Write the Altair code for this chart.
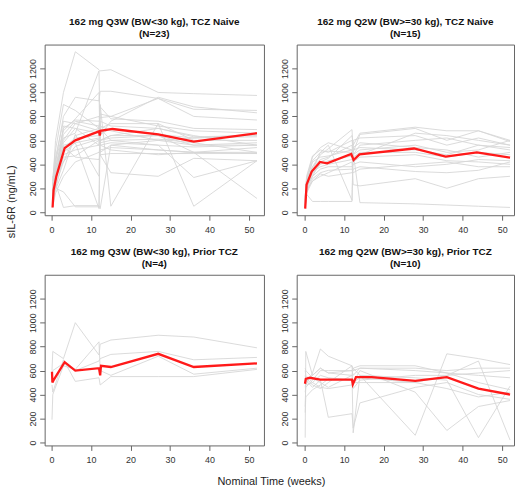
import altair as alt
import pandas as pd

# ---------------- data ----------------
TITLES = [
    ["162 mg Q3W (BW<30 kg),  TCZ Naive", "(N=23)"],
    ["162 mg Q2W (BW>=30 kg),  TCZ Naive", "(N=15)"],
    ["162 mg Q3W (BW<30 kg),  Prior TCZ", "(N=4)"],
    ["162 mg Q2W (BW>=30 kg),  Prior TCZ", "(N=10)"],
]

# nominal times (weeks) of individual profiles
T_Q3W = [0.25, 1, 3, 6, 12, 12.3, 15, 27, 36, 52]
T_Q2W = [0.15, 0.5, 2, 4, 6, 12, 12.3, 14, 28, 36, 44, 52]
T_Q3W_PRIOR = [0.1, 0.3, 3, 6, 12, 12.3, 15, 27, 36, 52]
T_Q2W_PRIOR = [0.15, 0.3, 2, 4, 6, 12, 12.3, 14, 28, 36, 44, 52]

# individual sIL-6R profiles (ng/mL)
IND_1 = [
    [220, 600, 1000, 1340, 1190, 1180, 1190, 1000, 990, 975],
    [180, 420, 800, 960, 930, 1010, 1010, 950, 860, 850],
    [120, 350, 700, 770, 760, 790, 800, 950, 800, 770],
    [100, 300, 650, 760, 720, 640, 760, 960, 880, 830],
    [60, 250, 720, 700, 560, 700, 740, 740, 50, 430],
    [250, 200, 170, 45, 45, 700, 600, 560, 545, 560],
    [300, 240, 40, 55, 55, 30, 560, 520, 500, 490],
    [150, 300, 550, 460, 440, 480, 490, 490, 490, 490],
    [80, 200, 460, 470, 600, 480, 330, 300, 450, 430],
    [200, 380, 600, 740, 680, 900, 50, 740, 600, 600],
    [90, 330, 560, 580, 620, 560, 580, 560, 290, 430],
    [140, 400, 620, 660, 1180, 650, 700, 650, 620, 650],
    [50, 280, 500, 580, 30, 760, 720, 700, 640, 560],
    [160, 360, 540, 620, 640, 600, 640, 700, 630, 640],
    [110, 260, 480, 520, 560, 600, 640, 640, 560, 580],
    [70, 220, 420, 640, 700, 820, 800, 720, 680, 660],
    [230, 460, 760, 740, 800, 720, 680, 600, 560, 560],
    [130, 320, 580, 700, 660, 560, 520, 480, 500, 540],
    [40, 160, 300, 420, 500, 520, 540, 520, 500, 500],
    [190, 430, 680, 780, 1000, 500, 560, 600, 620, 630],
    [260, 520, 900, 850, 700, 600, 620, 640, 500, 115],
    [100, 190, 350, 650, 300, 880, 780, 760, 700, 690],
    [170, 300, 420, 550, 610, 580, 600, 610, 580, 500],
]
IND_2 = [
    [100, 250, 380, 480, 530, 690, 500, 650, 700, 600, 680, 590],
    [60, 200, 300, 420, 450, 640, 560, 660, 710, 680, 680, 600],
    [40, 150, 90, 90, 90, 90, 500, 80, 70, 60, 50, 40],
    [80, 180, 350, 500, 560, 100, 600, 620, 640, 560, 620, 560],
    [120, 280, 460, 540, 580, 520, 480, 560, 600, 620, 560, 540],
    [50, 190, 260, 300, 330, 420, 230, 220, 280, 200, 280, 300],
    [90, 230, 340, 380, 400, 440, 420, 460, 480, 430, 420, 400],
    [70, 210, 300, 360, 380, 380, 400, 420, 380, 400, 440, 430],
    [110, 260, 420, 460, 470, 520, 480, 520, 560, 500, 520, 600],
    [30, 170, 280, 330, 350, 360, 330, 360, 400, 420, 380, 380],
    [130, 300, 470, 520, 500, 600, 520, 540, 520, 480, 560, 520],
    [60, 220, 320, 400, 430, 470, 460, 500, 500, 460, 500, 480],
    [90, 240, 380, 440, 460, 560, 440, 480, 660, 640, 600, 560],
    [40, 160, 260, 320, 300, 330, 360, 380, 340, 330, 350, 420],
    [100, 270, 430, 500, 510, 500, 540, 580, 540, 520, 460, 500],
]
IND_3 = [
    [600, 760, 700, 1000, 730, 820, 855, 895, 880, 790],
    [480, 420, 690, 510, 540, 480, 550, 550, 550, 610],
    [560, 600, 660, 600, 680, 700, 735, 760, 690, 710],
    [190, 400, 640, 610, 840, 600, 560, 720, 570, 620],
]
IND_4 = [
    [40, 760, 560, 620, 580, 600, 560, 620, 620, 600, 620, 620],
    [300, 480, 580, 780, 720, 640, 600, 620, 600, 580, 560, 540],
    [560, 520, 460, 520, 210, 240, 120, 330, 460, 500, 400, 360],
    [620, 600, 540, 500, 460, 560, 80, 560, 60, 740, 700, 650],
    [500, 480, 500, 560, 540, 520, 500, 600, 420, 100, 300, 350],
    [420, 460, 520, 600, 600, 600, 620, 560, 540, 520, 40, 470],
    [510, 540, 480, 450, 500, 640, 450, 520, 560, 560, 680, 20],
    [600, 560, 500, 460, 450, 480, 500, 500, 500, 450, 380, 420],
    [250, 380, 440, 480, 530, 520, 500, 540, 500, 560, 580, 600],
    [460, 500, 560, 620, 580, 560, 620, 640, 640, 580, 500, 440],
]

# mean profiles (red)
MEAN_T_1 = [0.25, 0.5, 1.2, 3.3, 6, 12, 12.2, 12.4, 15.4, 27, 36, 52]
MEAN_V_1 = [40, 185, 300, 535, 600, 675, 640, 680, 695, 650, 590, 660]
MEAN_T_2 = [0.15, 0.5, 1.8, 3.9, 5.7, 11.8, 12.4, 13.9, 27.7, 35.7, 43.6, 52]
MEAN_V_2 = [30, 230, 340, 420, 408, 486, 436, 483, 532, 464, 499, 455]
MEAN_T_3 = [0.1, 0.2, 0.5, 3.3, 6, 12, 12.3, 12.5, 15, 27, 36, 52]
MEAN_V_3 = [590, 500, 520, 670, 600, 620, 560, 640, 630, 740, 630, 660]
MEAN_T_4 = [0.1, 0.3, 1.3, 4, 12, 12.2, 13, 17, 28, 36, 44, 52]
MEAN_V_4 = [490, 530, 540, 525, 525, 485, 545, 545, 515, 545, 450, 400]

Y_TICKS = [0, 200, 400, 600, 800, 1000, 1200]
X_TICKS = [0, 10, 20, 30, 40, 50]

PANELS = [
    (T_Q3W, IND_1, MEAN_T_1, MEAN_V_1),
    (T_Q2W, IND_2, MEAN_T_2, MEAN_V_2),
    (T_Q3W_PRIOR, IND_3, MEAN_T_3, MEAN_V_3),
    (T_Q2W_PRIOR, IND_4, MEAN_T_4, MEAN_V_4),
]

FONT = "Liberation Sans"


def make_panel(idx, xdom, width, ytitle=False, xtitle=False):
    times, ind, mt, mv = PANELS[idx]
    rows = []
    for s, vals in enumerate(ind):
        for t, v in zip(times, vals):
            rows.append({"subject": s, "week": t, "value": v})
    gdf = pd.DataFrame(rows)
    rdf = pd.DataFrame({"week": mt, "value": mv})

    if xtitle:
        xaxis = alt.Axis(values=X_TICKS, title="Nominal Time (weeks)", titleX=228, titleY=30,
                         titleAlign="center", titleBaseline="top", titleFontSize=11,
                         titleFontWeight="normal", titleColor="#222", titleFont=FONT,
                         labelPadding=5)
    else:
        xaxis = alt.Axis(values=X_TICKS, title="", labelPadding=5)
    if ytitle:
        yaxis = alt.Axis(values=Y_TICKS, title="sIL-6R (ng/mL)", titleX=-28, titleY=158,
                         titleAngle=270, titleAlign="center", titleBaseline="bottom",
                         titleFontSize=11, titleFontWeight="normal", titleColor="#222",
                         titleFont=FONT, labelAngle=270, labelAlign="center",
                         labelBaseline="bottom", labelPadding=2, format="d")
    else:
        yaxis = alt.Axis(values=Y_TICKS, title="", labelAngle=270, labelAlign="center",
                         labelBaseline="bottom", labelPadding=2, format="d")

    x = alt.X("week:Q", scale=alt.Scale(domain=xdom, nice=False, zero=False), axis=xaxis)
    y = alt.Y("value:Q", scale=alt.Scale(domain=[-25, 1400], nice=False, zero=False), axis=yaxis)

    grey = alt.Chart(gdf).mark_line(color="#d6d6d6", strokeWidth=0.9, clip=True).encode(
        x=x, y=y, detail="subject:N")
    red = alt.Chart(rdf).mark_line(color="#ff1a1a", strokeWidth=2.3, clip=True).encode(x=x, y=y)
    return alt.layer(grey, red).properties(
        width=width, height=172,
        title=alt.TitleParams(text=TITLES[idx], fontSize=10, font=FONT, fontWeight="bold",
                              lineHeight=12, offset=6, anchor="middle", color="#111"),
    )


p1 = make_panel(0, [-1.76, 53.77], 221, ytitle=True)
p2 = make_panel(1, [-2.0, 53.0], 219)
p3 = make_panel(2, [-1.76, 53.77], 221, xtitle=True)
p4 = make_panel(3, [-2.0, 53.0], 219)

chart = alt.concat(
    p1, p2, p3, p4, columns=2, spacing={"row": 60, "column": 33},
    bounds="flush", align="each"
).properties(
    padding={"left": 5, "top": 14, "right": 0, "bottom": 0}
).configure_view(
    stroke="#666666", strokeWidth=1
).configure_axis(
    grid=False, domain=False, tickColor="#666666", tickSize=5,
    labelFont=FONT, labelFontSize=9, labelColor="#333333"
)

chart.save("out.html", embed_options={"renderer": "svg", "actions": False})
